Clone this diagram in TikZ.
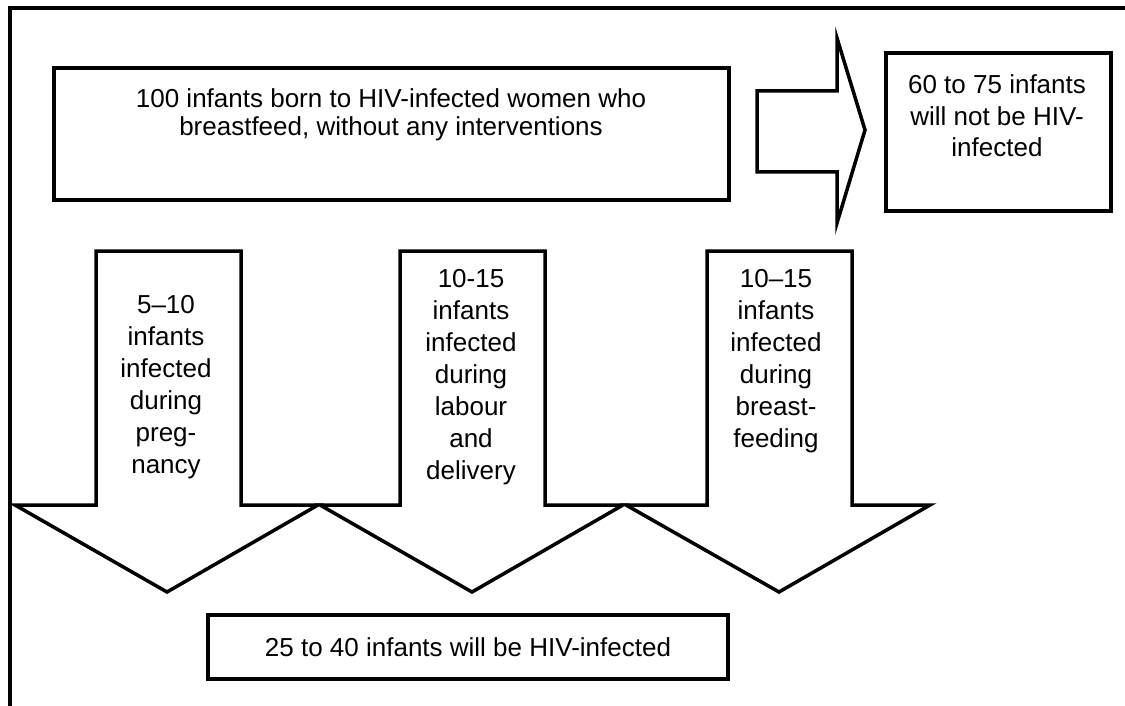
\documentclass[tikz,border=0pt]{standalone}
\usepackage{fontspec}
\setmainfont{Liberation Sans}

\begin{document}
\begin{tikzpicture}[x=1pt,y=-1pt]

    \tikzset{box/.style = {shape=rectangle,draw,line width=4pt,fill=white,inner sep=0pt}}
    \tikzset{blockarrow/.style = {draw,line width=3.5pt,fill=white,line join=miter}}
    \tikzset{txt/.style = {align=center,inner sep=0pt,font=\fontsize{26}{32}\selectfont}}

    \useasboundingbox (0,0) rectangle (1125,706);
    \draw[line width=4.5pt] (10,706) -- (10,8) -- (1125,8);

    \node[box,minimum width=675pt,minimum height=132pt] (born) at (391.5,134) {};
    \node[txt,font=\fontsize{26}{28}\selectfont] (bornText) at (391,115)
        {100 infants born to HIV-infected women who\\breastfeed, without any interventions};

    \node[box,minimum width=225pt,minimum height=158pt] (notInfected) at (998.5,132) {};
    \node[txt,font=\fontsize{26}{31.5}\selectfont] (notInfectedText) at (997,116)
        {60 to 75 infants\\will not be HIV-\\infected};

    % block arrows
    \draw[blockarrow] (757,91) -- (837,91) -- (837,38) -- (865,130) -- (837,223) -- (837,172) -- (757,172) -- cycle;
    \draw[blockarrow] (96,251) -- (241,251) -- (241,505) -- (318,505) -- (167,592) -- (15,505) -- (96,505) -- cycle;
    \draw[blockarrow] (400,251) -- (545,251) -- (545,505) -- (623,505) -- (472,592) -- (320,505) -- (400,505) -- cycle;
    \draw[blockarrow] (707,251) -- (852,251) -- (852,505) -- (930,505) -- (779,592) -- (626,505) -- (707,505) -- cycle;

    \node[txt] (pregnancy) at (166,387) {5--10\\infants\\infected\\during\\preg-\\nancy};
    \node[txt] (labour) at (471,377) {10-15\\infants\\infected\\during\\labour\\and\\delivery};
    \node[txt] (feeding) at (776,361) {10--15\\infants\\infected\\during\\breast-\\feeding};

    \node[box,txt,minimum width=520pt,minimum height=64pt] (infected) at (468,647)
        {25 to 40 infants will be HIV-infected};

\end{tikzpicture}
\end{document}
